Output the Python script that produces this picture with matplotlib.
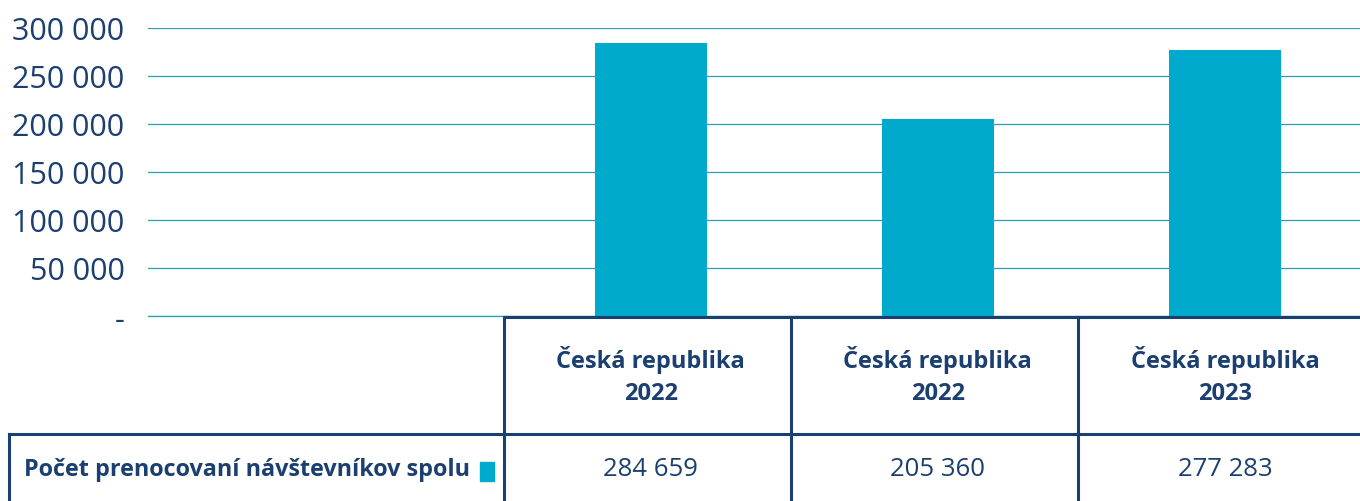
import matplotlib
matplotlib.use("Agg")
import matplotlib.pyplot as plt
from matplotlib.lines import Line2D
from matplotlib.patches import Rectangle
from matplotlib.ticker import FuncFormatter

# --- data ---
categories = ["Česká republika\n2022", "Česká republika\n2022", "Česká republika\n2023"]
values = [284659, 205360, 277283]
series_name = "Počet prenocovaní návštevníkov spolu"
yticks = [0, 50000, 100000, 150000, 200000, 250000, 300000]

BAR = "#00aacd"
NAVY = "#1b3f70"
GRID = "#2a9fbd"

plt.rcParams['font.family'] = ['Open Sans', 'DejaVu Sans']

W, H = 1360, 502
fig = plt.figure(figsize=(W / 100, H / 100), dpi=100)

# plot area in pixels: x 148..1360, y 29..317
ax = fig.add_axes([148 / W, (H - 317) / H, (W - 148) / W, (317 - 29) / H])
x = list(range(len(values)))
ax.bar(x, values, width=0.39, color=BAR, zorder=3)
ax.set_xlim(-1.75, 2.47)
ax.set_ylim(0, 300000)
ax.set_yticks(yticks)
ax.yaxis.set_major_formatter(FuncFormatter(
    lambda v, p: "-" if v == 0 else f"{int(v):,}".replace(",", " ")))
ax.tick_params(axis="y", length=0, pad=17, labelsize=22, labelcolor=NAVY)
ax.set_xticks([])
ax.grid(axis="y", color=GRID, lw=0.9, zorder=0)
ax.axhline(0, color=GRID, lw=0.9, zorder=0, clip_on=False)
for s in ax.spines.values():
    s.set_visible(False)


def fx(xd):
    # data x -> figure fraction
    px = ax.transData.transform((xd, 0))[0]
    return px / W


def fy(py):
    # pixel row from top -> figure fraction
    return (H - py) / H


lw = 2.2
right = 1.0
col_edges = [fx(i - 0.512) for i in range(len(values))]

# table borders
fig.add_artist(Line2D([col_edges[0], right], [fy(318), fy(318)], color=NAVY, lw=lw))
fig.add_artist(Line2D([9 / W, right], [fy(435), fy(435)], color=NAVY, lw=lw))
fig.add_artist(Line2D([9 / W, 9 / W], [fy(435), 0], color=NAVY, lw=lw))
for e in col_edges:
    fig.add_artist(Line2D([e, e], [fy(318), 0], color=NAVY, lw=lw))

# header + values
for i, (cat, v) in enumerate(zip(categories, values)):
    fig.text(fx(i), fy(376), cat, ha="center", va="center", fontsize=17,
             fontweight="bold", color=NAVY, linespacing=1.45)
    fig.text(fx(i), fy(470), f"{v:,}".replace(",", " "), ha="center",
             va="center", fontsize=18.5, color=NAVY)

fig.text(24 / W, fy(470), series_name, ha="left", va="center", fontsize=16.8,
         fontweight="bold", color=NAVY)
fig.add_artist(Rectangle((480 / W, fy(482)), 14 / W, 19 / H, color=BAR,
                         transform=fig.transFigure))

fig.savefig("out.png", dpi=100)
